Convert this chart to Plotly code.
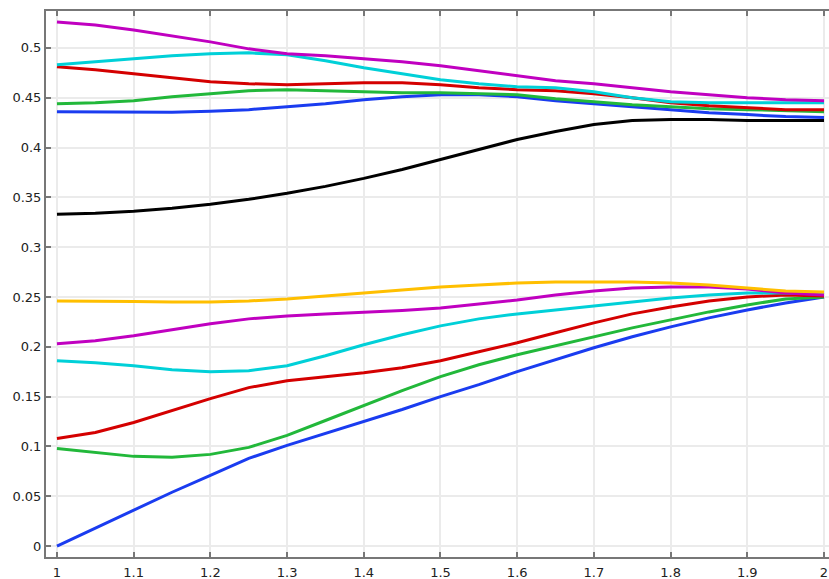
import plotly.graph_objects as go

x = [1.0, 1.05, 1.1, 1.15, 1.2, 1.25, 1.3, 1.35, 1.4, 1.45, 1.5,
     1.55, 1.6, 1.65, 1.7, 1.75, 1.8, 1.85, 1.9, 1.95, 2.0]

magenta_top = [0.526, 0.523, 0.518, 0.512, 0.506, 0.499, 0.494, 0.492, 0.489, 0.486, 0.482,
               0.477, 0.472, 0.467, 0.464, 0.460, 0.456, 0.453, 0.450, 0.448, 0.447]
cyan_top = [0.483, 0.486, 0.489, 0.492, 0.494, 0.495, 0.493, 0.487, 0.480, 0.474, 0.468,
            0.464, 0.461, 0.460, 0.456, 0.450, 0.446, 0.445, 0.445, 0.445, 0.445]
red_top = [0.481, 0.478, 0.474, 0.470, 0.466, 0.464, 0.463, 0.464, 0.465, 0.465, 0.463,
           0.460, 0.458, 0.457, 0.454, 0.450, 0.445, 0.442, 0.440, 0.438, 0.438]
green_top = [0.444, 0.445, 0.447, 0.451, 0.454, 0.457, 0.458, 0.457, 0.456, 0.455, 0.455,
             0.454, 0.453, 0.449, 0.446, 0.443, 0.441, 0.439, 0.438, 0.437, 0.436]
blue_top = [0.436, 0.436, 0.4355, 0.4355, 0.4365, 0.438, 0.441, 0.444, 0.448, 0.451, 0.453,
            0.453, 0.451, 0.447, 0.444, 0.441, 0.438, 0.435, 0.433, 0.431, 0.430]
black = [0.333, 0.334, 0.336, 0.339, 0.343, 0.348, 0.354, 0.361, 0.369, 0.378, 0.388,
         0.398, 0.408, 0.416, 0.423, 0.427, 0.428, 0.428, 0.427, 0.427, 0.427]

orange = [0.246, 0.246, 0.2455, 0.245, 0.245, 0.246, 0.248, 0.251, 0.254, 0.257, 0.260,
          0.262, 0.264, 0.265, 0.265, 0.265, 0.264, 0.262, 0.259, 0.256, 0.255]
magenta_low = [0.203, 0.206, 0.211, 0.217, 0.223, 0.228, 0.231, 0.233, 0.2345, 0.2365, 0.239,
               0.243, 0.247, 0.252, 0.256, 0.259, 0.260, 0.260, 0.258, 0.254, 0.252]
cyan_low = [0.186, 0.184, 0.181, 0.177, 0.175, 0.176, 0.181, 0.191, 0.202, 0.212, 0.221,
            0.228, 0.233, 0.237, 0.241, 0.245, 0.249, 0.252, 0.254, 0.254, 0.253]
red_low = [0.108, 0.114, 0.124, 0.136, 0.148, 0.159, 0.166, 0.170, 0.174, 0.179, 0.186,
           0.195, 0.204, 0.214, 0.224, 0.233, 0.240, 0.246, 0.250, 0.252, 0.251]
green_low = [0.098, 0.094, 0.090, 0.089, 0.092, 0.099, 0.111, 0.126, 0.141, 0.156, 0.170,
             0.182, 0.192, 0.201, 0.210, 0.219, 0.227, 0.235, 0.242, 0.248, 0.250]
blue_low = [0.0, 0.018, 0.036, 0.054, 0.071, 0.088, 0.101, 0.113, 0.125, 0.137, 0.150,
            0.162, 0.175, 0.187, 0.199, 0.210, 0.220, 0.229, 0.237, 0.244, 0.250]

x_ticks = [1, 1.1, 1.2, 1.3, 1.4, 1.5, 1.6, 1.7, 1.8, 1.9, 2]
x_tick_text = ["1", "1.1", "1.2", "1.3", "1.4", "1.5", "1.6", "1.7", "1.8", "1.9", "2"]
y_ticks = [0, 0.05, 0.1, 0.15, 0.2, 0.25, 0.3, 0.35, 0.4, 0.45, 0.5]
y_tick_text = ["0", "0.05", "0.1", "0.15", "0.2", "0.25", "0.3", "0.35", "0.4", "0.45", "0.5"]

MAG = "#c000c0"
CYA = "#00d0d8"
RED = "#d40000"
GRN = "#22b83a"
BLU = "#1a3cf0"
BLK = "#000000"
ORG = "#ffbf00"

series = [
    (blue_low, BLU), (green_low, GRN), (red_low, RED), (cyan_low, CYA),
    (magenta_low, MAG), (orange, ORG),
    (black, BLK), (blue_top, BLU), (green_top, GRN), (red_top, RED),
    (cyan_top, CYA), (magenta_top, MAG),
]

fig = go.Figure()
for ys, c in series:
    fig.add_trace(go.Scatter(x=x, y=ys, mode="lines",
                             line=dict(color=c, width=3), showlegend=False,
                             hoverinfo="skip"))

axis_common = dict(
    showline=True, linecolor="#777777", linewidth=2,
    ticks="inside", ticklen=5, tickwidth=2, tickcolor="#777777",
    showgrid=True, gridcolor="#ebebeb", gridwidth=2,
    zeroline=False, automargin=False,
    tickfont=dict(family="DejaVu Sans", size=13, color="#222222"),
)

fig.update_layout(
    width=829, height=579,
    margin=dict(l=46, r=0, t=11, b=22),
    paper_bgcolor="white", plot_bgcolor="white",
    xaxis=dict(range=[0.9857, 2.0065], tickvals=x_ticks, ticktext=x_tick_text,
               mirror="ticks", ticklabelstandoff=2, **axis_common),
    yaxis=dict(range=[-0.011, 0.537], tickvals=y_ticks, ticktext=y_tick_text,
               **axis_common),
)

fig.write_html("out.html",
               config={"displayModeBar": False},
               post_script="document.body.style.margin='0';document.body.style.overflow='hidden';")
